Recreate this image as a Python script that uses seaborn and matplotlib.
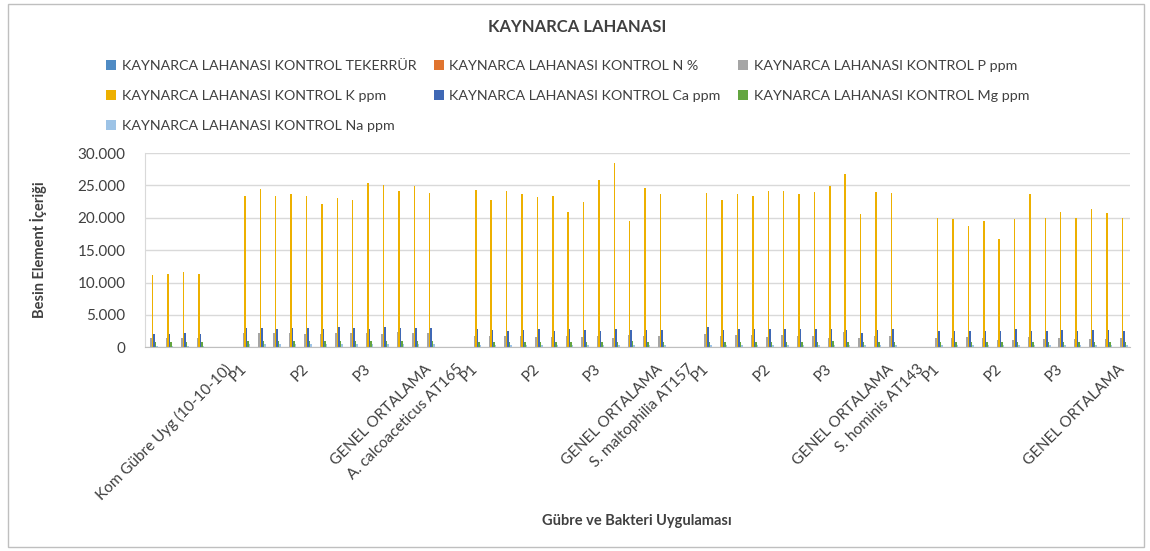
import numpy as np
import pandas as pd
import matplotlib
matplotlib.use("Agg")
import matplotlib.pyplot as plt
import seaborn as sns
from matplotlib.ticker import FuncFormatter
from matplotlib.patches import Rectangle

# series names
series = [
    "KAYNARCA LAHANASI KONTROL TEKERRÜR",
    "KAYNARCA LAHANASI KONTROL N %",
    "KAYNARCA LAHANASI KONTROL P ppm",
    "KAYNARCA LAHANASI KONTROL K ppm",
    "KAYNARCA LAHANASI KONTROL Ca ppm",
    "KAYNARCA LAHANASI KONTROL Mg ppm",
    "KAYNARCA LAHANASI KONTROL Na ppm",
]
colors = ["#4F8BC4", "#E0742F", "#A5A5A5", "#EDB000", "#3F68B5", "#63A540", "#9DC3E6"]

# values per treatment block (control 4 reps, then 4 blocks of P1..P3 x4 reps + GENEL ORTALAMA)
tekerrur = [
    [1, 2, 3, 4],
    [1, 2, 3, 4, 1, 2, 3, 4, 1, 2, 3, 4, 2.5],
    [1, 2, 3, 4, 1, 2, 3, 4, 1, 2, 3, 4, 2.5],
    [1, 2, 3, 4, 1, 2, 3, 4, 1, 2, 3, 4, 2.5],
    [1, 2, 3, 4, 1, 2, 3, 4, 1, 2, 3, 4, 2.5],
]
n_pct = [
    [2.9, 3.0, 2.8, 3.1],
    [3.4, 3.5, 3.3, 3.6, 3.4, 3.2, 3.5, 3.3, 3.6, 3.5, 3.4, 3.3, 3.4],
    [3.3, 3.2, 3.4, 3.5, 3.1, 3.3, 3.2, 3.4, 3.5, 3.6, 3.2, 3.3, 3.3],
    [3.5, 3.3, 3.4, 3.2, 3.6, 3.4, 3.3, 3.5, 3.4, 3.6, 3.1, 3.4, 3.4],
    [3.1, 3.0, 3.2, 3.1, 2.9, 3.0, 3.3, 3.1, 3.2, 3.0, 3.1, 3.2, 3.1],
]
p_ppm = [
    [1480, 1500, 1470, 1480],
    [2250, 2250, 2150, 2150, 2050, 2000, 2150, 2150, 2150, 2000, 2350, 2150, 2200],
    [1790, 1790, 1690, 1690, 1590, 1590, 1690, 1590, 1690, 1480, 1890, 1690, 1690],
    [2050, 1790, 1890, 1890, 1590, 1890, 1790, 1790, 1480, 2350, 1480, 1790, 1790],
    [1430, 1430, 1530, 1430, 1120, 1200, 1640, 1280, 1430, 1280, 1280, 1280, 1430],
]
k_ppm = [
    [11230, 11380, 11580, 11330],
    [23320, 24400, 23320, 23690, 23320, 22100, 23120, 22820, 25380, 25020, 24200, 24870, 23800],
    [24300, 22700, 24100, 23700, 23200, 23300, 20900, 22500, 25900, 28460, 19500, 24600, 23600],
    [23800, 22700, 23700, 23400, 24100, 24200, 23600, 24000, 24900, 26700, 20600, 24000, 23800],
    [20000, 19850, 18800, 19500, 16700, 19850, 23600, 20000, 20900, 20000, 21300, 20700, 20000],
]
ca_ppm = [
    [2000, 2000, 2150, 2000],
    [3020, 3020, 2860, 3020, 3020, 2860, 3080, 3020, 2860, 3080, 3020, 3020, 3020],
    [2770, 2660, 2560, 2660, 2770, 2560, 2870, 2660, 2560, 2770, 2660, 2660, 2660],
    [3080, 2660, 2770, 2870, 2870, 2870, 2870, 2870, 2870, 2660, 2250, 2660, 2770],
    [2560, 2560, 2560, 2560, 2460, 2870, 2460, 2560, 2670, 2560, 2670, 2670, 2560],
]
mg_ppm = [
    [770, 750, 780, 760],
    [970, 950, 990, 960, 940, 980, 1000, 950, 960, 1010, 990, 960, 970],
    [870, 850, 880, 860, 840, 870, 890, 860, 850, 880, 900, 860, 870],
    [880, 860, 870, 890, 850, 880, 870, 860, 900, 880, 840, 870, 870],
    [820, 810, 830, 820, 800, 840, 830, 810, 820, 830, 820, 810, 820],
]
na_ppm = [
    [250, 260, 240, 250],
    [480, 500, 470, 520, 490, 510, 500, 480, 520, 500, 490, 510, 500],
    [400, 420, 390, 410, 400, 380, 420, 400, 410, 390, 420, 400, 400],
    [420, 400, 410, 390, 420, 400, 410, 400, 390, 420, 380, 400, 400],
    [330, 320, 340, 330, 310, 340, 330, 320, 340, 330, 320, 330, 330],
]
all_values = [tekerrur, n_pct, p_ppm, k_ppm, ca_ppm, mg_ppm, na_ppm]

# x-axis labels (category index -> label), other categories unlabeled
label_idx = [5, 6, 10, 14, 18, 20, 21, 25, 29, 33, 35, 36, 40, 44, 48, 50, 51, 55, 59, 63]
label_txt = ["Kom Gübre Uyg (10-10-10)", "P1", "P2", "P3", "GENEL ORTALAMA",
             "A. calcoaceticus AT165", "P1", "P2", "P3", "GENEL ORTALAMA",
             "S. maltophilia AT157", "P1", "P2", "P3", "GENEL ORTALAMA",
             "S. hominis AT143", "P1", "P2", "P3", "GENEL ORTALAMA"]
GAP = 2

# build long table, two empty categories between blocks
rows = []
for name, blocks in zip(series, all_values):
    idx = 0
    for b, vals in enumerate(blocks):
        if b > 0:
            idx += GAP
        for v in vals:
            rows.append({"cat": idx, "series": name, "value": v})
            idx += 1
n_cat = idx
df = pd.DataFrame(rows)

plt.rcParams["font.family"] = ["Lato", "DejaVu Sans"]
fig = plt.figure(figsize=(11.5, 5.51), dpi=100)
ax = fig.add_axes([0.126, 0.3697, 0.8566, 0.3526])

sns.barplot(data=df, x="cat", y="value", hue="series", order=list(range(n_cat)),
            hue_order=series, palette=colors, saturation=1, width=0.68,
            linewidth=0, ax=ax, legend=True)

ax.set_ylim(0, 30000)
ax.set_xlim(-0.5, n_cat - 0.5)
ax.set_yticks(range(0, 30001, 5000))
ax.yaxis.set_major_formatter(FuncFormatter(lambda v, p: f"{v:,.0f}".replace(",", ".")))
ax.grid(axis="y", color="#D9D9D9", linewidth=1)
ax.set_axisbelow(True)
for s in ["top", "right"]:
    ax.spines[s].set_visible(False)
ax.spines["left"].set_color("#D9D9D9")
ax.spines["bottom"].set_color("#BFBFBF")
ax.tick_params(axis="y", length=0, labelsize=11, pad=14, labelcolor="#404040")

ax.set_xticks(label_idx)
ax.set_xticklabels(label_txt, rotation=45, ha="right", va="center",
                   rotation_mode="anchor", fontsize=11, color="#404040")
ax.tick_params(axis="x", length=0, pad=14)

ax.set_ylabel("Besin Element İçeriği", fontsize=10.5, fontweight="bold", color="#404040", labelpad=22)
ax.set_xlabel("")
fig.text(0.554, 0.054, "Gübre ve Bakteri Uygulaması", ha="center", va="center",
         fontsize=10.5, fontweight="bold", color="#404040")
fig.text(0.502, 0.951, "KAYNARCA LAHANASI", ha="center", va="center",
         fontsize=12, fontweight="bold", color="#404040")

# legend, reordered so entries read row by row like the original
handles, labels = ax.get_legend_handles_labels()
ax.get_legend().remove()
order = [0, 3, 6, 1, 4, 2, 5]
fig.legend([handles[i] for i in order], [labels[i] for i in order], ncol=3,
           loc="upper left", bbox_to_anchor=(0.081, 0.915), frameon=False,
           fontsize=10.3, handlelength=0.7, handleheight=0.7, handletextpad=0.4,
           columnspacing=1.2, labelspacing=1.25, labelcolor="#404040")

fig.patches.append(Rectangle((0.007, 0.008), 0.988, 0.984, transform=fig.transFigure,
                             fill=False, edgecolor="#BFBFBF", linewidth=1))

fig.savefig("out.png", dpi=100)
